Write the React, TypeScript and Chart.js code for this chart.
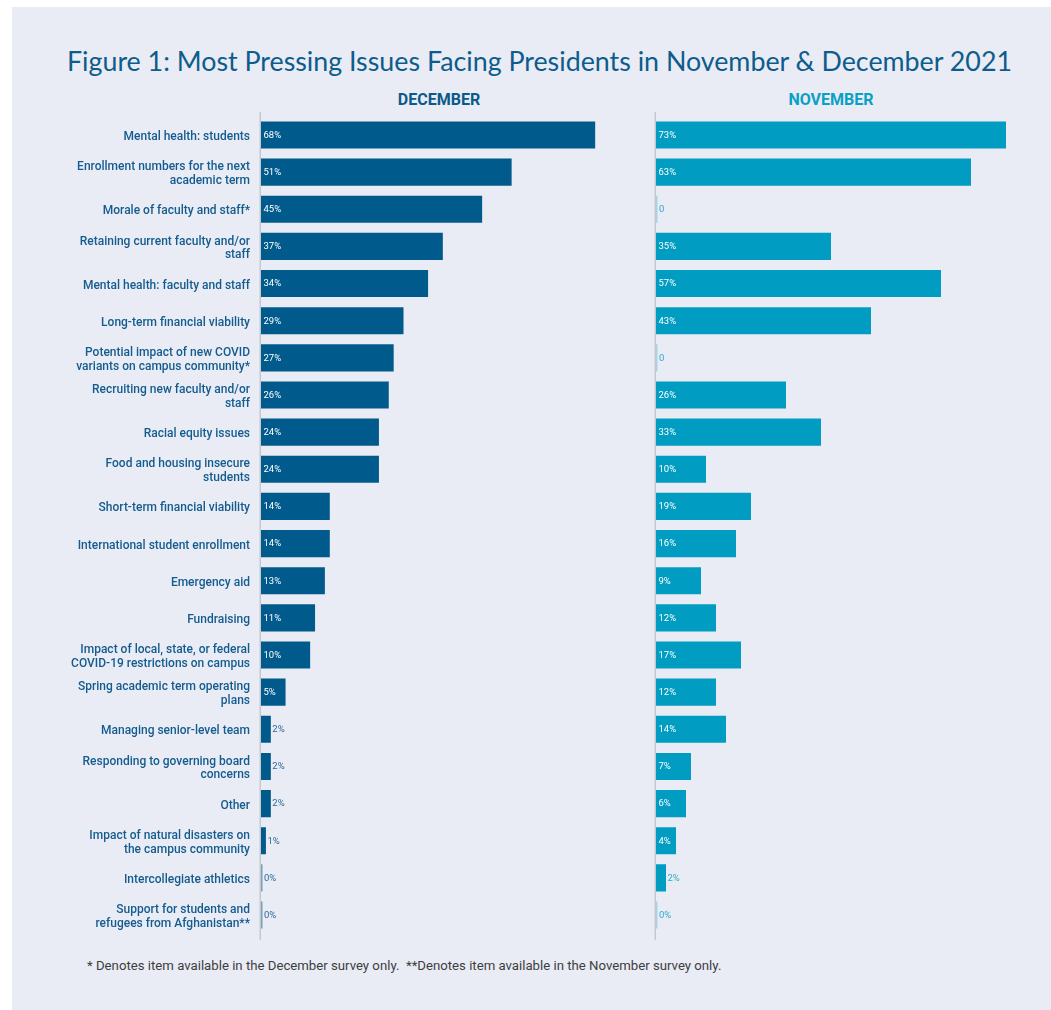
import React, { useEffect, useRef } from "react";
import { Chart, registerables } from "chart.js";

Chart.register(...registerables);

const categories: (string | string[])[] = [
  "Mental health: students",
  ["Enrollment numbers for the next", "academic term"],
  "Morale of faculty and staff*",
  ["Retaining current faculty and/or", "staff"],
  "Mental health: faculty and staff",
  "Long-term financial viability",
  ["Potential impact of new COVID", "variants on campus community*"],
  ["Recruiting new faculty and/or", "staff"],
  "Racial equity issues",
  ["Food and housing insecure", "students"],
  "Short-term financial viability",
  "International student enrollment",
  "Emergency aid",
  "Fundraising",
  ["Impact of local, state, or federal", "COVID-19 restrictions on campus"],
  ["Spring academic term operating", "plans"],
  "Managing senior-level team",
  ["Responding to governing board", "concerns"],
  "Other",
  ["Impact of natural disasters on", "the campus community"],
  "Intercollegiate athletics",
  ["Support for students and", "refugees from Afghanistan**"],
];

const decemberValues: number[] = [68, 51, 45, 37, 34, 29, 27, 26, 24, 24, 14, 14, 13, 11, 10, 5, 2, 2, 2, 1, 0, 0];
// null = item not asked in the November survey (shown as "0")
const novemberValues: (number | null)[] = [73, 63, null, 35, 57, 43, null, 26, 33, 10, 19, 16, 9, 12, 17, 12, 14, 7, 6, 4, 2, 0];

const titleText = "Figure 1: Most Pressing Issues Facing Presidents in November & December 2021";
const decemberHeader = "DECEMBER";
const novemberHeader = "NOVEMBER";
const footnoteText = "* Denotes item available in the December survey only.\u00a0\u00a0**Denotes item available in the November survey only.";

const DEC_COLOR = "#005a8c";
const DEC_ZERO = "#7a9ebd";
const NOV_COLOR = "#009cc1";
const NOV_ZERO = "#a9d3e3";
const LABEL_COLOR = "#145c8f";
const BG = "#e9ecf4";

function makePlugins(labels: string[], values: number[], outsideColor: string) {
  return [
    {
      id: "axisLine",
      beforeDatasetsDraw(chart: any) {
        const { ctx, chartArea } = chart;
        ctx.save();
        ctx.fillStyle = "#c6c8cc";
        ctx.fillRect(chartArea.left - 1.5, chartArea.top - 4.5, 1.5, chartArea.bottom - chartArea.top + 11);
        ctx.restore();
      },
    },
    {
      id: "valueLabels",
      afterDatasetsDraw(chart: any) {
        const { ctx } = chart;
        const meta = chart.getDatasetMeta(0);
        ctx.save();
        ctx.font = "9.5px Roboto";
        ctx.textBaseline = "middle";
        ctx.textAlign = "left";
        meta.data.forEach((bar: any, i: number) => {
          const p = bar.getProps(["x", "y", "base"], true);
          const v = values[i];
          if (v >= 4) {
            ctx.fillStyle = "#ffffff";
            ctx.fillText(labels[i], p.base + 2.5, p.y + 0.5);
          } else {
            ctx.fillStyle = outsideColor;
            ctx.fillText(labels[i], Math.max(p.x, p.base) + 1.5, p.y + 0.5);
          }
        });
        ctx.restore();
      },
    },
  ];
}

function BarPanel(props: {
  values: number[];
  labels: string[];
  color: string;
  zeroColor: string;
  outsideColor: string;
  showCategories: boolean;
  width: number;
  height: number;
  padLeft: number;
  padRight: number;
}) {
  const ref = useRef<HTMLCanvasElement | null>(null);
  useEffect(() => {
    if (!ref.current) return;
    const { values, labels, color, zeroColor, outsideColor, showCategories } = props;
    const chart = new Chart(ref.current, {
      type: "bar",
      data: {
        labels: categories,
        datasets: [
          {
            data: values,
            backgroundColor: values.map((v) => (v === 0 ? zeroColor : color)),
            barPercentage: 0.73,
            categoryPercentage: 1,
            minBarLength: 1.5,
            borderWidth: 0,
          },
        ],
      },
      options: {
        indexAxis: "y",
        responsive: false,
        animation: false,
        devicePixelRatio: 1,
        layout: { padding: { top: 16.4, bottom: 16.4, left: props.padLeft, right: props.padRight } },
        plugins: { legend: { display: false }, tooltip: { enabled: false }, title: { display: false } },
        scales: {
          x: { display: false, min: 0, max: 70 },
          y: {
            display: showCategories,
            grid: { display: false, drawTicks: false },
            border: { display: false },
            afterFit: (scale: any) => {
              if (showCategories) {
                scale.width = 249;
                scale.paddingTop = 0;
                scale.paddingBottom = 0;
              }
            },
            ticks: {
              color: LABEL_COLOR,
              padding: 11,
              labelOffset: 2,
              autoSkip: false,
              font: { family: "Roboto", size: 12, weight: "500", lineHeight: 1.15 },
            },
          },
        },
      },
      plugins: makePlugins(labels, values, outsideColor) as any,
    });
    return () => chart.destroy();
  }, []);
  return <canvas ref={ref} width={props.width} height={props.height} style={{ width: props.width, height: props.height, display: "block" }} />;
}

export default function App() {
  const decLabels = decemberValues.map((v) => v + "%");
  const novLabels = novemberValues.map((v) => (v === null ? "0" : v + "%"));
  const novData = novemberValues.map((v) => (v === null ? 0 : v));
  return (
    <div
      style={{
        position: "absolute",
        left: 12,
        top: 7,
        width: 1039,
        height: 1003,
        background: BG,
        overflow: "hidden",
        fontFamily: "Roboto, sans-serif",
      }}
    >
      <div
        style={{
          position: "absolute",
          left: 0,
          width: 1055,
          top: 38,
          lineHeight: "32px",
          textAlign: "center",
          whiteSpace: "nowrap",
          fontFamily: "Lato, sans-serif",
          fontSize: 26.8,
          color: "#0e5c8c",
        }}
      >
        {titleText}
      </div>
      <div style={{ position: "absolute", left: 367, width: 120, top: 83, lineHeight: "20px", textAlign: "center", fontWeight: 700, fontSize: 16, color: "#0b5a8a" }}>
        {decemberHeader}
      </div>
      <div style={{ position: "absolute", left: 759, width: 120, top: 83, lineHeight: "20px", textAlign: "center", fontWeight: 700, fontSize: 16, color: "#0aa0c6" }}>
        {novemberHeader}
      </div>
      <div style={{ position: "absolute", left: 0, top: 93 }}>
        <BarPanel
          values={decemberValues}
          labels={decLabels}
          color={DEC_COLOR}
          zeroColor={DEC_ZERO}
          outsideColor="#2e6a98"
          showCategories={true}
          width={593}
          height={850}
          padLeft={0}
          padRight={0}
        />
      </div>
      <div style={{ position: "absolute", left: 634, top: 93 }}>
        <BarPanel
          values={novData}
          labels={novLabels}
          color={NOV_COLOR}
          zeroColor={NOV_ZERO}
          outsideColor="#2fa9cc"
          showCategories={false}
          width={380}
          height={850}
          padLeft={10}
          padRight={20}
        />
      </div>
      <div style={{ position: "absolute", left: 75, top: 950, lineHeight: "18px", fontSize: 13.2, color: "#3d3d3f", whiteSpace: "nowrap" }}>
        {footnoteText}
      </div>
    </div>
  );
}
